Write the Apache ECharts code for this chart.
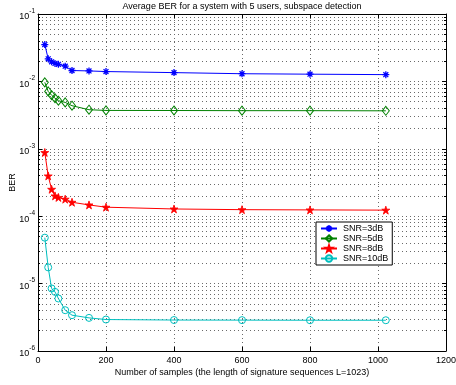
<!DOCTYPE html>
<html><head><meta charset="utf-8">
<script src="https://cdn.jsdelivr.net/npm/echarts@6/dist/echarts.min.js"></script>
<style>html,body{margin:0;padding:0;background:#fff}#c{width:456px;height:385px}</style>
</head><body><div id="c"></div>
<script>
const samples = [20, 30, 40, 50, 60, 80, 100, 150, 200, 400, 600, 800, 1023];
const ber3dB  = [0.0352, 0.0216, 0.0195, 0.0185, 0.0179, 0.0168, 0.0145, 0.0143, 0.0140, 0.0135, 0.0130, 0.0128, 0.0126];
const ber5dB  = [0.00968, 0.00711, 0.00624, 0.00563, 0.00517, 0.00488, 0.00436, 0.00380, 0.00371, 0.00370, 0.00368, 0.00368, 0.00366];
const ber8dB  = [0.000881, 0.000396, 0.000251, 0.000200, 0.000190, 0.000179, 0.000161, 0.000147, 0.000136, 0.000128, 0.000125, 0.000124, 0.000123];
const ber10dB = [4.80e-5, 1.74e-5, 8.47e-6, 7.54e-6, 6.01e-6, 4.03e-6, 3.40e-6, 3.10e-6, 2.93e-6, 2.88e-6, 2.87e-6, 2.86e-6, 2.86e-6];
const seriesNames = ['SNR=3dB', 'SNR=5dB', 'SNR=8dB', 'SNR=10dB'];
const titleText = 'Average BER for a system with 5 users, subspace detection';
const xName = 'Number of samples (the length of signature sequences L=1023)';
const yName = 'BER';

const FONT = 'Liberation Sans, Arial, Helvetica, sans-serif';
const FS = 9;
const gridColor = '#6a6a6a';
const dotted = { color: gridColor, width: 1, type: [1, 3] };

// marker shapes
const asterisk = 'path://M5,0L5,10M0,5L10,5M1.5,1.5L8.5,8.5M1.5,8.5L8.5,1.5';
function starPath() {
  let p = '';
  for (let i = 0; i < 10; i++) {
    const r = i % 2 === 0 ? 10 : 3.9;
    const a = -Math.PI / 2 + i * Math.PI / 5;
    p += (i === 0 ? 'M' : 'L') + (10 + r * Math.cos(a)).toFixed(2) + ',' + (10 + r * Math.sin(a)).toFixed(2);
  }
  return 'path://' + p + 'Z';
}
const pentagram = starPath();

function pairs(ys) { return samples.map((x, i) => [x, ys[i]]); }

const chart = echarts.init(document.getElementById('c'), null, { renderer: 'canvas' });

function expLabel(v) {
  const e = Math.round(Math.log10(v));
  return '{b|10}{s|' + e + '}';
}
const yRich = {
  b: { fontSize: FS, fontFamily: FONT, color: '#000', lineHeight: 11, padding: [6, 0, 0, 0] },
  s: { fontSize: 6.5, fontFamily: FONT, color: '#000', lineHeight: 8, padding: [0, 0, 6, 0] }
};

const option = {
  backgroundColor: '#fff',
  animation: false,
  textStyle: { fontFamily: FONT },
  title: {
    text: titleText, left: 242, top: 2, textAlign: 'center', padding: 0,
    textStyle: { fontSize: FS, fontWeight: 'normal', color: '#000', fontFamily: FONT }
  },
  grid: { left: 38, right: 10, top: 14, bottom: 34, containLabel: false, outerBoundsMode: 'none' },
  legend: {
    orient: 'vertical', left: 316, top: 222,
    backgroundColor: '#fff', borderColor: '#000', borderWidth: 1,
    padding: [2, 4, 2, 4], itemGap: 1, itemWidth: 16, itemHeight: 8,
    textStyle: { fontSize: FS, color: '#000', fontFamily: FONT, padding: [0, 0, 0, 1] },
    data: seriesNames
  },
  xAxis: [{
    type: 'value', min: 0, max: 1200, interval: 200, position: 'bottom',
    name: xName, nameLocation: 'middle', nameGap: 17, nameMoveOverlap: false,
    nameTextStyle: { fontSize: FS, color: '#000', fontFamily: FONT },
    axisLine: { show: true, onZero: false, lineStyle: { color: '#000', width: 1 } },
    axisTick: { show: true, inside: true, length: 4, lineStyle: { color: '#000' } },
    axisLabel: { fontSize: FS, color: '#000', margin: 5, fontFamily: FONT, formatter: v => String(v) },
    splitLine: { show: true, lineStyle: dotted }
  }, {
    type: 'value', min: 0, max: 1200, interval: 200, position: 'top',
    axisLine: { show: true, onZero: false, lineStyle: { color: '#000', width: 1 } },
    axisTick: { show: true, inside: true, length: 4, lineStyle: { color: '#000' } },
    axisLabel: { show: false }, splitLine: { show: false }
  }],
  yAxis: [{
    type: 'log', logBase: 10, min: 1e-6, max: 1e-1, position: 'left',
    name: yName, nameLocation: 'middle', nameGap: 21, nameRotate: 90, nameMoveOverlap: false,
    nameTextStyle: { fontSize: FS, color: '#000', fontFamily: FONT },
    axisLine: { show: true, onZero: false, lineStyle: { color: '#000', width: 1 } },
    axisTick: { show: true, inside: true, length: 4, lineStyle: { color: '#000' } },
    minorTick: { show: true, splitNumber: 9, length: 2, lineStyle: { color: '#000' } },
    minorSplitLine: { show: true, lineStyle: dotted },
    axisLabel: { formatter: expLabel, rich: yRich, margin: 3 },
    splitLine: { show: true, lineStyle: dotted }
  }, {
    type: 'log', logBase: 10, min: 1e-6, max: 1e-1, position: 'right',
    axisLine: { show: true, onZero: false, lineStyle: { color: '#000', width: 1 } },
    axisTick: { show: true, inside: true, length: 4, lineStyle: { color: '#000' } },
    minorTick: { show: true, splitNumber: 9, length: 2, lineStyle: { color: '#000' } },
    axisLabel: { show: false }, splitLine: { show: false }
  }],
  series: [
    {
      name: seriesNames[0], type: 'line', data: pairs(ber3dB),
      symbol: asterisk, symbolSize: 7,
      lineStyle: { color: '#0000ff', width: 1 },
      itemStyle: { color: '#0000ff', borderColor: '#0000ff', borderWidth: 1.3 }
    },
    {
      name: seriesNames[1], type: 'line', data: pairs(ber5dB),
      symbol: 'diamond', symbolSize: [7, 9],
      lineStyle: { color: '#008000', width: 1 },
      itemStyle: { color: 'rgba(255,255,255,0)', borderColor: '#008000', borderWidth: 1 }
    },
    {
      name: seriesNames[2], type: 'line', data: pairs(ber8dB),
      symbol: pentagram, symbolSize: 8,
      lineStyle: { color: '#ff0000', width: 1 },
      itemStyle: { color: '#ff0000', borderColor: '#ff0000', borderWidth: 0.8 }
    },
    {
      name: seriesNames[3], type: 'line', data: pairs(ber10dB),
      symbol: 'circle', symbolSize: 7,
      lineStyle: { color: '#00bfbf', width: 1 },
      itemStyle: { color: 'rgba(255,255,255,0)', borderColor: '#00bfbf', borderWidth: 1 }
    }
  ]
};
chart.setOption(option);
</script></body></html>
